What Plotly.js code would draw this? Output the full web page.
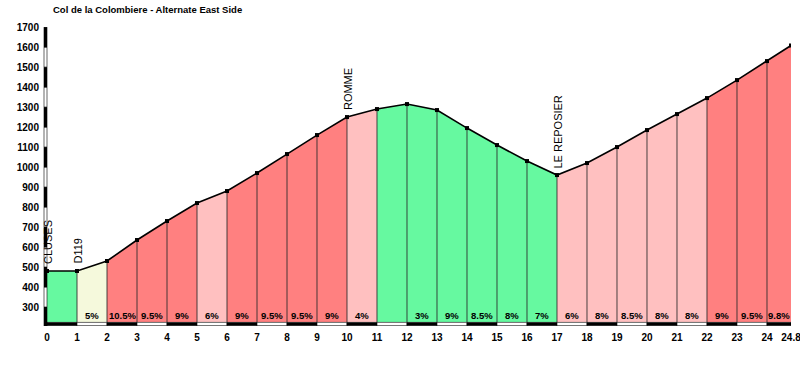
<!DOCTYPE html>
<html><head><meta charset="utf-8">
<script src="https://cdn.plot.ly/plotly-3.0.1.min.js"></script>
<style>html,body{margin:0;padding:0;background:#fff}#c{width:800px;height:366px}</style>
</head><body><div id="c"></div>
<script>
// Distances (km) and elevations (m)
const km = [0,1,2,3,4,5,6,7,8,9,10,11,12,13,14,15,16,17,18,19,20,21,22,23,24,24.8];
const elev = [480,480,530,635,730,820,880,970,1065,1160,1250,1290,1315,1285,1195,1110,1030,960,1020,1100,1185,1265,1345,1435,1530,1608];
// Segment grade labels (one per segment)
const grades = ["","5%","10.5%","9.5%","9%","6%","9%","9.5%","9.5%","9%","4%","","3%","9%","8.5%","8%","7%","6%","8%","8.5%","8%","8%","9%","9.5%","9.8%"];
// Segment colour classes
const segClass = ["g","y","r","r","r","p","r","r","r","r","p","g","g","g","g","g","g","p","p","p","p","p","r","r","r"];
// Place names
const placeKm = [0,1,10,17];
const placeNames = ["CLUSES","D119","ROMME","LE REPOSIER"];
const xTickVals = [0,1,2,3,4,5,6,7,8,9,10,11,12,13,14,15,16,17,18,19,20,21,22,23,24,24.8];
const xTickText = ["0","1","2","3","4","5","6","7","8","9","10","11","12","13","14","15","16","17","18","19","20","21","22","23","24","24.8"];
const yTickVals = [300,400,500,600,700,800,900,1000,1100,1200,1300,1400,1500,1600,1700];

const palette = {g:"#66F9A0", y:"#F5F9DC", p:"#FFC0C0", r:"#FF8080"};
const BASE = 225, YMIN = 205, YMAX = 1700;

const traces = [];
for (let i = 0; i < km.length - 1; i++) {
  traces.push({
    type:"scatter", mode:"lines",
    x:[km[i],km[i],km[i+1],km[i+1],km[i]],
    y:[BASE,elev[i],elev[i+1],BASE,BASE],
    fill:"toself", fillcolor:palette[segClass[i]],
    line:{width:0}, hoverinfo:"skip", showlegend:false
  });
}
// vertical separators
const vx=[], vy=[];
for (let i = 1; i < km.length - 1; i++) { vx.push(km[i],km[i],null); vy.push(BASE,elev[i],null); }
traces.push({type:"scatter",mode:"lines",x:vx,y:vy,line:{color:"rgba(40,40,40,0.85)",width:1},hoverinfo:"skip",showlegend:false});
// profile line
traces.push({type:"scatter",mode:"lines+markers",x:km,y:elev,
  line:{color:"#000",width:1.6},marker:{color:"#000",size:4,symbol:"square"},hoverinfo:"skip",showlegend:false});

const annotations = [];
for (let i = 0; i < grades.length; i++) {
  if (!grades[i]) continue;
  annotations.push({x:(km[i]+km[i+1])/2, y:260, xref:"x", yref:"y", text:grades[i], showarrow:false,
    font:{family:"Liberation Sans, Arial, sans-serif", size:9.5, color:"#000", weight:"bold"}});
}
placeNames.forEach((n, j) => {
  const idx = km.indexOf(placeKm[j]);
  annotations.push({x:placeKm[j], y:elev[idx], xref:"x", yref:"y", text:n, textangle:-90,
    showarrow:false, xanchor:"center", yanchor:"bottom", yshift:5, xshift:1,
    font:{family:"Liberation Sans, Arial, sans-serif", size:11, color:"#000"}});
});

const shapes = [];
// x-axis alternating bar
for (let i = 0; i < km.length - 1; i++) {
  shapes.push({type:"rect", xref:"x", yref:"y", x0:km[i], x1:km[i+1], y0:YMIN+2, y1:BASE-2,
    fillcolor: i % 2 === 0 ? "#000" : "#fff", line:{color:"#000", width:0.6}});
}
// y-axis alternating bar
for (let v = 200; v < 1700; v += 100) {
  const k = Math.round((1700 - v) / 100);
  shapes.push({type:"rect", xref:"paper", yref:"y", xsizemode:"pixel", xanchor:0, x0:-3, x1:0,
    y0:Math.max(v, YMIN), y1:v+100, fillcolor: k % 2 === 1 ? "#000" : "#fff", line:{color:"#000", width:0.6}});
}

const tickFont = {family:"Liberation Sans, Arial, sans-serif", size:10, color:"#000", weight:"bold"};
const layout = {
  width:800, height:366,
  margin:{l:47, r:9, t:27, b:40},
  paper_bgcolor:"#fff", plot_bgcolor:"#fff",
  title:{text:"Col de la Colombiere - Alternate East Side", xref:"container", yref:"container",
    x:53/800, xanchor:"left", y:1-10/366, yanchor:"middle",
    font:{family:"Liberation Sans, Arial, sans-serif", size:9.5, color:"#000", weight:"bold"}},
  xaxis:{range:[0,24.8005], tickvals:xTickVals, ticktext:xTickText, showgrid:false, zeroline:false,
    showline:false, ticks:"", tickfont:tickFont, ticklabelstandoff:4, ticklabeloverflow:"allow", fixedrange:true},
  yaxis:{range:[YMIN,YMAX+0.5], tickvals:yTickVals, showgrid:false, zeroline:false, showline:false,
    ticks:"", tickfont:tickFont, ticklabelstandoff:7, ticklabeloverflow:"allow", fixedrange:true},
  shapes:shapes, annotations:annotations, showlegend:false
};
Plotly.newPlot("c", traces, layout, {displayModeBar:false, staticPlot:true});
</script></body></html>
